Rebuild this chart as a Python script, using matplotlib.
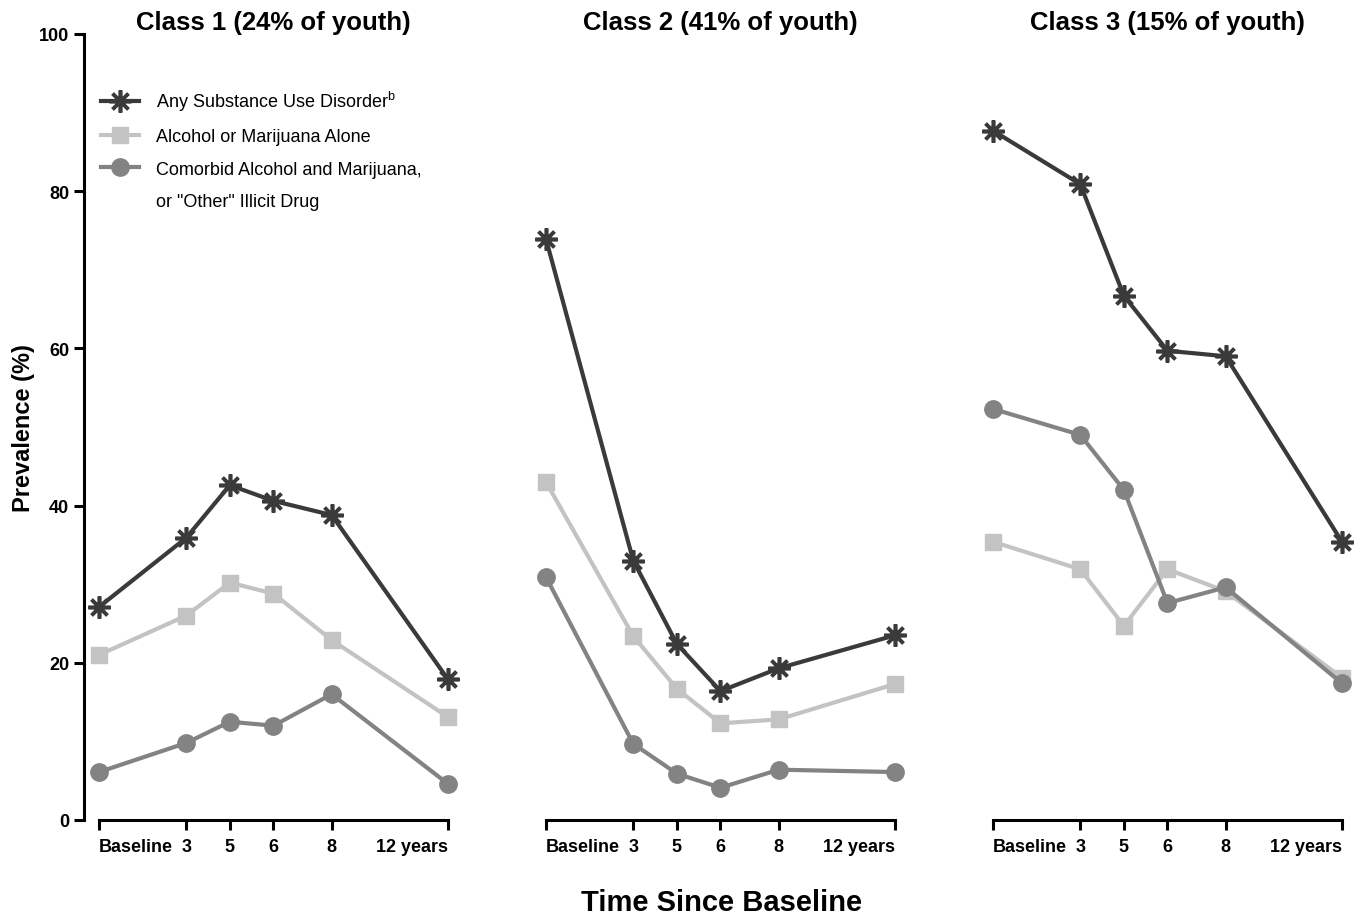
import matplotlib
matplotlib.use("Agg")
import matplotlib.pyplot as plt
from matplotlib.lines import Line2D

plt.rcParams["font.family"] = ["Liberation Sans", "DejaVu Sans"]

# time points (years since baseline) and their tick labels
years = [0, 3, 4.5, 6, 8, 12]
year_labels = ["Baseline", "3", "5", "6", "8", "12 years"]

titles = ["Class 1 (24% of youth)", "Class 2 (41% of youth)", "Class 3 (15% of youth)"]

# prevalence (%) per class
any_sud = [
    [27.1, 35.9, 42.6, 40.6, 38.8, 17.9],
    [73.9, 33.0, 22.4, 16.4, 19.3, 23.5],
    [87.7, 80.9, 66.7, 59.7, 59.0, 35.4],
]
alc_or_mj = [
    [21.0, 26.0, 30.2, 28.8, 22.9, 13.1],
    [43.0, 23.4, 16.7, 12.3, 12.8, 17.3],
    [35.4, 31.9, 24.7, 31.9, 29.1, 18.1],
]
comorbid = [
    [6.1, 9.8, 12.5, 12.0, 16.0, 4.6],
    [30.9, 9.7, 5.9, 4.1, 6.4, 6.1],
    [52.3, 49.0, 42.0, 27.6, 29.6, 17.4],
]

c_dark = "#3a3a3a"
c_light = "#c3c3c3"
c_mid = "#838383"
asterisk = (8, 2, 0)

W, H = 1365, 920
fig = plt.figure(figsize=(W / 100, H / 100), dpi=100)

px_per_year = 29.08
lefts = [99, 546, 993]
x0, x1 = -0.5, 12.5
bottom_px, top_px = 821, 35

axes = []
for i in range(3):
    left = lefts[i] + x0 * px_per_year
    width = (x1 - x0) * px_per_year
    ax = fig.add_axes([left / W, (H - bottom_px) / H, width / W, (bottom_px - top_px) / H])
    axes.append(ax)

    ax.plot(years, alc_or_mj[i], color=c_light, lw=3, marker="s", ms=11,
            clip_on=False, zorder=3)
    ax.plot(years, comorbid[i], color=c_mid, lw=3, marker="o", ms=12.5,
            clip_on=False, zorder=4)
    ax.plot(years, any_sud[i], color=c_dark, lw=3, marker=asterisk, ms=16,
            mew=2.6, clip_on=False, zorder=5)

    ax.set_xlim(x0, x1)
    ax.set_ylim(0, 100)
    for s in ["top", "right"]:
        ax.spines[s].set_visible(False)
    ax.spines["bottom"].set_bounds(0, 12)
    ax.spines["bottom"].set_linewidth(2.2)
    ax.spines["left"].set_linewidth(2.2)

    ax.set_xticks(years)
    ax.set_xticklabels(year_labels, fontsize=13, fontweight="bold")
    ax.tick_params(axis="x", length=7, width=2.2, pad=6)
    labels = ax.get_xticklabels()
    labels[0].set_ha("left")
    labels[-1].set_ha("right")

    if i == 0:
        ax.spines["left"].set_bounds(0, 100)
        ax.set_yticks([0, 20, 40, 60, 80, 100])
        ax.tick_params(axis="y", length=7, width=2.2, pad=4, labelsize=13)
        for t in ax.get_yticklabels():
            t.set_fontweight("bold")
        ax.set_ylabel("Prevalence (%)", fontsize=17, fontweight="bold", labelpad=3)
    else:
        ax.spines["left"].set_visible(False)
        ax.set_yticks([])

    ax.set_title(titles[i], fontsize=18.5, fontweight="bold", pad=3)

handles = [
    Line2D([], [], color=c_dark, lw=3, marker=asterisk, ms=16, mew=2.6),
    Line2D([], [], color=c_light, lw=3, marker="s", ms=11),
    Line2D([], [], color=c_mid, lw=3, marker="o", ms=12.5),
    Line2D([], [], linestyle="none"),
]
labels = [
    "Any Substance Use Disorder$^{\\mathregular{b}}$",
    "Alcohol or Marijuana Alone",
    "Comorbid Alcohol and Marijuana,",
    'or "Other" Illicit Drug',
]
axes[0].legend(handles, labels, loc="upper left", bbox_to_anchor=(0.045, 0.93),
               frameon=False, fontsize=13, handlelength=2.1, handletextpad=0.9,
               labelspacing=0.85, borderaxespad=0, borderpad=0)

fig.text(722 / W, 1 - 903 / H, "Time Since Baseline", fontsize=21,
         fontweight="bold", ha="center", va="center")

fig.savefig("out.png", dpi=100)
